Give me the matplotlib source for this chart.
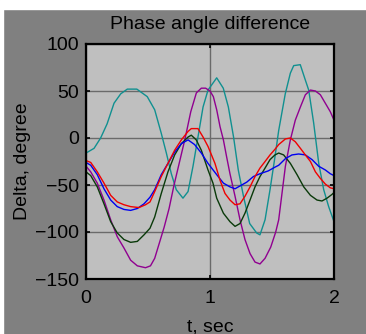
import matplotlib
matplotlib.use("Agg")
import matplotlib.pyplot as plt
from matplotlib.patches import Rectangle

plt.rcParams['font.family'] = ['Liberation Sans', 'DejaVu Sans']

# rotor angle differences, degrees
t_teal = [0, 0.065, 0.118, 0.17, 0.226, 0.28, 0.333, 0.41, 0.494, 0.554,
          0.607, 0.648, 0.688, 0.728, 0.782, 0.823, 0.863, 0.903, 0.944, 0.984,
          1.054, 1.107, 1.148, 1.19, 1.228, 1.27, 1.32, 1.376, 1.403, 1.444,
          1.484, 1.524, 1.554, 1.607, 1.648, 1.675, 1.728, 1.768, 1.796, 1.836,
          1.877, 1.917, 1.957, 2.0]
d_teal = [-16, -11, 0, 15, 37, 47, 52, 52, 44, 30,
          5, -16, -38, -55, -64, -57, -30, 1, 33, 51,
          64, 53, 33, 1, -34, -62, -91, -101, -103, -87,
          -55, -20, 8, 47, 69, 77, 78, 62, 51, 16,
          -27, -55, -73, -89]

t_purple = [0, 0.038, 0.091, 0.145, 0.199, 0.252, 0.306, 0.36, 0.414, 0.48,
            0.52, 0.554, 0.607, 0.63, 0.67, 0.71, 0.755, 0.80, 0.845, 0.89,
            0.93, 0.965, 1.0, 1.027, 1.054, 1.081, 1.108, 1.134, 1.161, 1.202,
            1.242, 1.282, 1.323, 1.363, 1.403, 1.444, 1.49, 1.53, 1.554, 1.589,
            1.608, 1.648, 1.688, 1.729, 1.769, 1.81, 1.85, 1.89, 1.93, 1.97,
            2.0]
d_purple = [-30, -36, -48, -66, -87, -105, -117, -130, -136, -138,
            -136, -128, -105, -95, -75, -50, -25, 0, 28, 48,
            53, 53, 50, 44, 30, 12, -2, -20, -38, -62,
            -87, -108, -123, -132, -134, -128, -116, -100, -87, -50,
            -30, -2, 19, 33, 46, 51, 50, 46, 37, 28,
            19]

t_red = [0, 0.038, 0.091, 0.145, 0.199, 0.252, 0.306, 0.36, 0.427, 0.48,
         0.516, 0.554, 0.607, 0.661, 0.715, 0.769, 0.823, 0.849, 0.903, 0.944,
         0.984, 1.04, 1.081, 1.121, 1.161, 1.202, 1.242, 1.282, 1.323, 1.363,
         1.403, 1.444, 1.484, 1.524, 1.554, 1.608, 1.648, 1.688, 1.729, 1.769,
         1.81, 1.85, 1.89, 1.93, 1.97, 2.0]
d_red = [-24, -26, -36, -48, -61, -68, -71, -73, -74, -71,
         -68, -57, -41, -27, -13, -2, 7, 10, 10, 1,
         -9, -27, -45, -59, -66, -71, -70, -62, -52, -41,
         -32, -25, -18, -12, -7, -1, 0, -4, -11, -18,
         -25, -36, -43, -49, -53, -54]

t_blue = [0, 0.038, 0.091, 0.145, 0.199, 0.252, 0.306, 0.36, 0.414, 0.468,
          0.516, 0.554, 0.607, 0.661, 0.715, 0.769, 0.823, 0.876, 0.93, 0.984,
          1.054, 1.108, 1.161, 1.202, 1.242, 1.296, 1.35, 1.403, 1.47, 1.524,
          1.554, 1.608, 1.661, 1.715, 1.769, 1.823, 1.876, 1.93, 1.97, 2.0]
d_blue = [-26, -29, -39, -54, -66, -73, -76, -77, -75, -70,
          -63, -55, -39, -27, -15, -6, -2, -7, -16, -27,
          -39, -48, -52, -54, -51, -47, -41, -38, -35, -31,
          -29, -22, -18, -17, -18, -23, -30, -34, -38, -40]

t_green = [0, 0.038, 0.091, 0.145, 0.199, 0.252, 0.306, 0.36, 0.414, 0.468,
           0.516, 0.554, 0.607, 0.661, 0.715, 0.769, 0.823, 0.849, 0.889, 0.93,
           0.984, 1.024, 1.054, 1.108, 1.161, 1.202, 1.242, 1.282, 1.323, 1.363,
           1.403, 1.444, 1.484, 1.524, 1.554, 1.594, 1.648, 1.702, 1.756, 1.81,
           1.863, 1.903, 1.944, 1.984, 2.0]
d_green = [-36, -40, -52, -70, -89, -101, -108, -111, -110, -103,
           -96, -84, -59, -36, -18, -6, 1, 3, -2, -13,
           -34, -48, -64, -80, -89, -94, -91, -80, -66, -52,
           -41, -32, -23, -18, -16, -18, -27, -39, -52, -61,
           -66, -67, -64, -60, -58]

xticks = [0, 1, 2]
yticks = [-150, -100, -50, 0, 50, 100]

fig = plt.figure(figsize=(3.66, 3.34), dpi=100, facecolor='#808080')
# white strip at the top and left edge of the screenshot
fig.add_artist(Rectangle((0, 1 - 9 / 334), 1, 9 / 334, transform=fig.transFigure,
                         color='white', zorder=0))
fig.add_artist(Rectangle((0, 0), 3 / 366, 1, transform=fig.transFigure,
                         color='white', zorder=0))

ax = fig.add_axes([86 / 366, 55 / 334, 248 / 366, 235 / 334])
ax.set_facecolor('#bfbfbf')

ax.plot(t_teal, d_teal, color='#109090', lw=1.0)
ax.plot(t_purple, d_purple, color='#900090', lw=1.0)
ax.plot(t_green, d_green, color='#0a3a0a', lw=1.0)
ax.plot(t_blue, d_blue, color='#0000f0', lw=1.0)
ax.plot(t_red, d_red, color='#f00000', lw=1.0)

ax.set_xlim(0, 2)
ax.set_ylim(-150, 100)
ax.set_xticks(xticks)
ax.set_yticks(yticks)
ax.grid(True, color='#6a6a6a', lw=1.0)
ax.set_axisbelow(True)

for s in ax.spines.values():
    s.set_color('black')
    s.set_linewidth(1.6)

ax.tick_params(direction='in', length=3, width=1.2, top=True, right=True,
               labelsize=14, colors='black')
ax.tick_params(axis='x', pad=8)
ax.tick_params(axis='y', pad=5)

ax.set_title('Phase angle difference', fontsize=14, pad=11)
ax.set_xlabel('t, sec', fontsize=14, labelpad=8)
ax.set_ylabel('Delta, degree', fontsize=14, labelpad=3)

fig.savefig('out.png', dpi=100, facecolor=fig.get_facecolor())
